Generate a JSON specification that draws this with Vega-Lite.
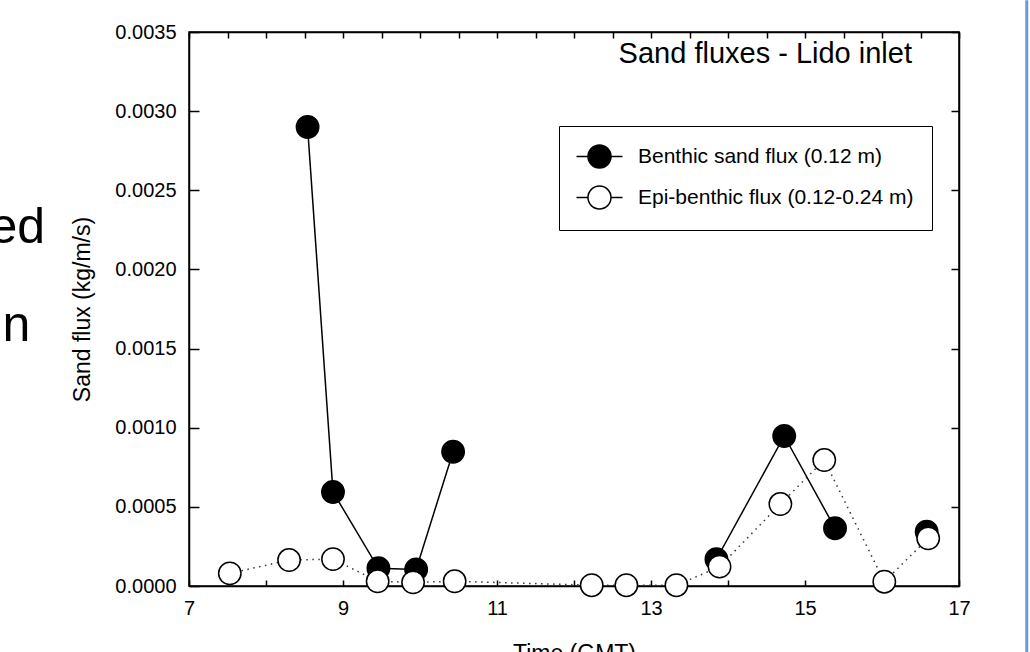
{
  "$schema": "https://vega.github.io/schema/vega-lite/v6.json",
  "width": 770,
  "height": 554,
  "autosize": {"type": "none"},
  "padding": {"left": 189, "top": 32, "right": 71, "bottom": 66},
  "background": "white",
  "config": {
    "font": "Liberation Sans",
    "view": {"stroke": "black", "strokeWidth": 1.5},
    "axis": {
      "grid": false,
      "domainColor": "black",
      "domainWidth": 1.5,
      "tickColor": "black",
      "tickWidth": 1.5,
      "labelColor": "black",
      "titleColor": "black",
      "labelFont": "Liberation Sans",
      "titleFont": "Liberation Sans",
      "labelFontSize": 20,
      "titleFontSize": 23,
      "titleFontWeight": "normal"
    }
  },
  "title": {
    "text": "Sand fluxes - Lido inlet",
    "anchor": "end",
    "frame": "group",
    "fontSize": 29,
    "fontWeight": "normal",
    "font": "Liberation Sans",
    "color": "black",
    "baseline": "alphabetic",
    "offset": -31,
    "dy": 62,
    "dx": -47
  },
  "datasets": {
    "flux": [
      {"time": 8.54, "series": "Benthic sand flux (0.12 m)", "flux": 0.0029},
      {"time": 8.87, "series": "Benthic sand flux (0.12 m)", "flux": 0.000594},
      {"time": 9.46, "series": "Benthic sand flux (0.12 m)", "flux": 0.000112},
      {"time": 9.95, "series": "Benthic sand flux (0.12 m)", "flux": 0.000105},
      {"time": 10.43, "series": "Benthic sand flux (0.12 m)", "flux": 0.000848},
      {"time": 12.23, "series": "Benthic sand flux (0.12 m)", "flux": null},
      {"time": 12.68, "series": "Benthic sand flux (0.12 m)", "flux": null},
      {"time": 13.33, "series": "Benthic sand flux (0.12 m)", "flux": null},
      {"time": 13.85, "series": "Benthic sand flux (0.12 m)", "flux": 0.000169},
      {"time": 14.73, "series": "Benthic sand flux (0.12 m)", "flux": 0.000948},
      {"time": 15.39, "series": "Benthic sand flux (0.12 m)", "flux": 0.000365},
      {"time": 16.03, "series": "Benthic sand flux (0.12 m)", "flux": null},
      {"time": 16.58, "series": "Benthic sand flux (0.12 m)", "flux": 0.000343},
      {"time": 7.53, "series": "Epi-benthic flux (0.12-0.24 m)", "flux": 0.00008},
      {"time": 8.30, "series": "Epi-benthic flux (0.12-0.24 m)", "flux": 0.000164},
      {"time": 8.87, "series": "Epi-benthic flux (0.12-0.24 m)", "flux": 0.00017},
      {"time": 9.45, "series": "Epi-benthic flux (0.12-0.24 m)", "flux": 0.00003},
      {"time": 9.91, "series": "Epi-benthic flux (0.12-0.24 m)", "flux": 0.000023},
      {"time": 10.45, "series": "Epi-benthic flux (0.12-0.24 m)", "flux": 0.00003},
      {"time": 12.23, "series": "Epi-benthic flux (0.12-0.24 m)", "flux": 0.000005},
      {"time": 12.68, "series": "Epi-benthic flux (0.12-0.24 m)", "flux": 0.000005},
      {"time": 13.33, "series": "Epi-benthic flux (0.12-0.24 m)", "flux": 0.000005},
      {"time": 13.89, "series": "Epi-benthic flux (0.12-0.24 m)", "flux": 0.000122},
      {"time": 14.68, "series": "Epi-benthic flux (0.12-0.24 m)", "flux": 0.000518},
      {"time": 15.25, "series": "Epi-benthic flux (0.12-0.24 m)", "flux": 0.000796},
      {"time": 16.03, "series": "Epi-benthic flux (0.12-0.24 m)", "flux": 0.000027},
      {"time": 16.6, "series": "Epi-benthic flux (0.12-0.24 m)", "flux": 0.000301}
    ],
    "slide": [
      {"time": 5.13, "flux": 0.00217, "word": "ed"},
      {"time": 4.94, "flux": 0.00155, "word": "n"}
    ]
  },
  "resolve": {"axis": {"x": "independent", "y": "independent"}},
  "layer": [
    {
      "data": {"name": "flux"},
      "transform": [{"filter": "datum.series === 'Benthic sand flux (0.12 m)'"}],
      "mark": {"type": "line", "color": "black", "strokeWidth": 1.5, "invalid": "break-paths-filter-domains"},
      "encoding": {
        "x": {
          "field": "time", "type": "quantitative",
          "scale": {"domain": [7, 17], "nice": false, "zero": false},
          "axis": {
            "orient": "bottom",
            "title": "Time (GMT)",
            "values": [7, 7.5, 8, 8.5, 9, 9.5, 10, 10.5, 11, 11.5, 12, 12.5, 13, 13.5, 14, 14.5, 15, 15.5, 16, 16.5, 17],
            "format": "d",
            "labelExpr": "datum.value % 2 == 1 ? datum.label : ''",
            "tickSize": -6,
            "labelPadding": 18,
            "titlePadding": 24,
            "labelFlush": false,
            "labelOverlap": false
          }
        },
        "y": {
          "field": "flux", "type": "quantitative",
          "scale": {"domain": [0, 0.0035], "nice": false},
          "axis": {
            "orient": "left",
            "title": "Sand flux (kg/m/s)",
            "values": [0, 0.0005, 0.001, 0.0015, 0.002, 0.0025, 0.003, 0.0035],
            "format": ".4f",
            "tickSize": -10,
            "labelPadding": 23,
            "titlePadding": 20,
            "labelFlush": false,
            "labelOverlap": false
          }
        }
      }
    },
    {
      "data": {"name": "flux"},
      "transform": [{"filter": "datum.series === 'Epi-benthic flux (0.12-0.24 m)'"}],
      "mark": {"type": "line", "color": "#333333", "strokeWidth": 1.5, "strokeDash": [1.5, 4.5]},
      "encoding": {
        "x": {
          "field": "time", "type": "quantitative",
          "axis": {
            "orient": "top",
            "title": null,
            "labels": false,
            "values": [7, 7.5, 8, 8.5, 9, 9.5, 10, 10.5, 11, 11.5, 12, 12.5, 13, 13.5, 14, 14.5, 15, 15.5, 16, 16.5, 17],
            "tickSize": -6
          }
        },
        "y": {
          "field": "flux", "type": "quantitative",
          "axis": {
            "orient": "right",
            "title": null,
            "labels": false,
            "values": [0, 0.0005, 0.001, 0.0015, 0.002, 0.0025, 0.003, 0.0035],
            "tickSize": -8
          }
        }
      }
    },
    {
      "data": {"name": "flux"},
      "mark": {"type": "point", "shape": "circle", "filled": true, "size": 500, "stroke": "black", "strokeWidth": 1.5, "opacity": 1},
      "encoding": {
        "x": {"field": "time", "type": "quantitative", "axis": null},
        "y": {"field": "flux", "type": "quantitative", "axis": null},
        "fill": {
          "field": "series", "type": "nominal",
          "scale": {"domain": ["Benthic sand flux (0.12 m)", "Epi-benthic flux (0.12-0.24 m)"], "range": ["black", "white"]},
          "legend": {
            "title": null,
            "orient": "none",
            "legendX": 370,
            "legendY": 94,
            "strokeColor": "black",
            "fillColor": "white",
            "padding": 18,
            "symbolType": "M-2,0H-1A1,1 0 1,1 1,0A1,1 0 1,1 -1,0M1,0H2",
            "symbolSize": 529,
            "symbolStrokeColor": "black",
            "symbolStrokeWidth": 1.5,
            "symbolOffset": 10,
            "labelOffset": 26,
            "labelFont": "Liberation Sans",
            "labelFontSize": 21,
            "labelColor": "black",
            "labelLimit": 400,
            "rowPadding": 12
          }
        }
      }
    },
    {
      "data": {"name": "slide"},
      "mark": {"type": "text", "align": "right", "baseline": "alphabetic", "fontSize": 50, "font": "Liberation Sans", "color": "black"},
      "encoding": {
        "x": {"field": "time", "type": "quantitative", "axis": null},
        "y": {"field": "flux", "type": "quantitative", "axis": null},
        "text": {"field": "word"}
      }
    },
    {
      "data": {"values": [{"edge": "slide frame"}]},
      "mark": {"type": "rule", "color": "#6b9ad8", "strokeWidth": 3, "clip": false},
      "encoding": {
        "x": {"datum": 17.88, "type": "quantitative", "axis": null},
        "y": {"datum": 0.0037, "type": "quantitative", "axis": null},
        "y2": {"datum": -0.0005}
      }
    }
  ]
}
